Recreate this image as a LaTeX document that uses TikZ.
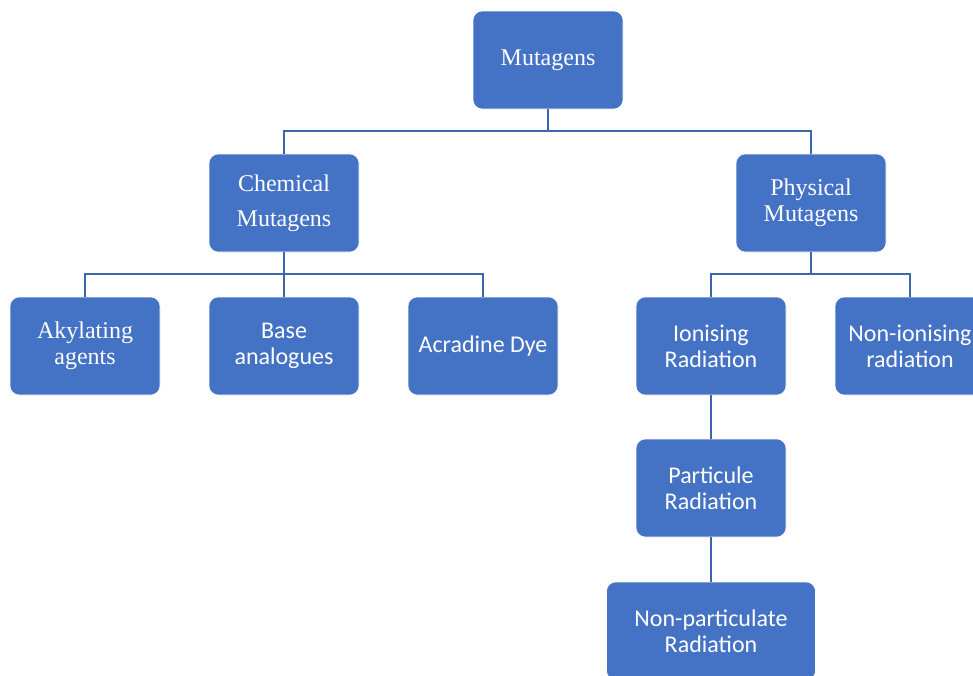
\documentclass[tikz,border=0pt]{standalone}
\usepackage{fontspec}
\setmainfont{Liberation Serif}
\newfontfamily\bodyfont{Carlito}
\usepackage{tikz}

\definecolor{boxblue}{HTML}{4472C4}
\definecolor{linkblue}{HTML}{3F65AE}

\tikzset{
  mbox/.style={rectangle, rounded corners=7pt, fill=boxblue, draw=white, line width=0.4pt,
    text=white, align=center, minimum width=112.5pt, minimum height=73.5pt, inner sep=2pt,
    font=\fontsize{18}{19.5}\selectfont},
  sbox/.style={mbox, font=\bodyfont\fontsize{18}{19.5}\selectfont},
  link/.style={draw=linkblue, line width=2pt}
}

\begin{document}
\begin{tikzpicture}[x=0.75pt,y=-0.75pt]
  \useasboundingbox (0,0) rectangle (973,675);
  % top level
  \node[mbox] (mut) at (548,60) {Mutagens};
  % second level
  \node[mbox] (chem) at (284,203) {Chemical\\[6.5pt]Mutagens};
  \node[mbox] (phys) at (811,203) {Physical\\Mutagens};
  % chemical branch
  \node[mbox] (aky) at (85,346) {Akylating\\agents};
  \node[sbox] (base) at (284,346) {Base\\analogues};
  \node[sbox] (acr) at (483,346) {Acradine Dye};
  % physical branch
  \node[sbox] (ion) at (711,346) {Ionising\\Radiation};
  \node[sbox] (nonion) at (910,346) {Non-ionising\\radiation};
  \node[sbox] (part) at (711,488) {Particule\\Radiation};
  \node[sbox, minimum width=156.75pt] (nonpart) at (711,631) {Non-particulate\\Radiation};

  % bus lines
  \coordinate (bus1) at (548,131);
  \coordinate (bus2) at (284,274);
  \coordinate (bus3) at (811,274);
  \draw[link] (mut.south) -- (bus1);
  \draw[link] (bus1) -| (chem.north);
  \draw[link] (bus1) -| (phys.north);
  \draw[link] (chem.south) -- (bus2);
  \draw[link] (bus2) -| (aky.north);
  \draw[link] (bus2) -- (base.north);
  \draw[link] (bus2) -| (acr.north);
  \draw[link] (phys.south) -- (bus3);
  \draw[link] (bus3) -| (ion.north);
  \draw[link] (bus3) -| (nonion.north);
  \draw[link] (ion.south) -- (part.north);
  \draw[link] (part.south) -- (nonpart.north);
\end{tikzpicture}
\end{document}
